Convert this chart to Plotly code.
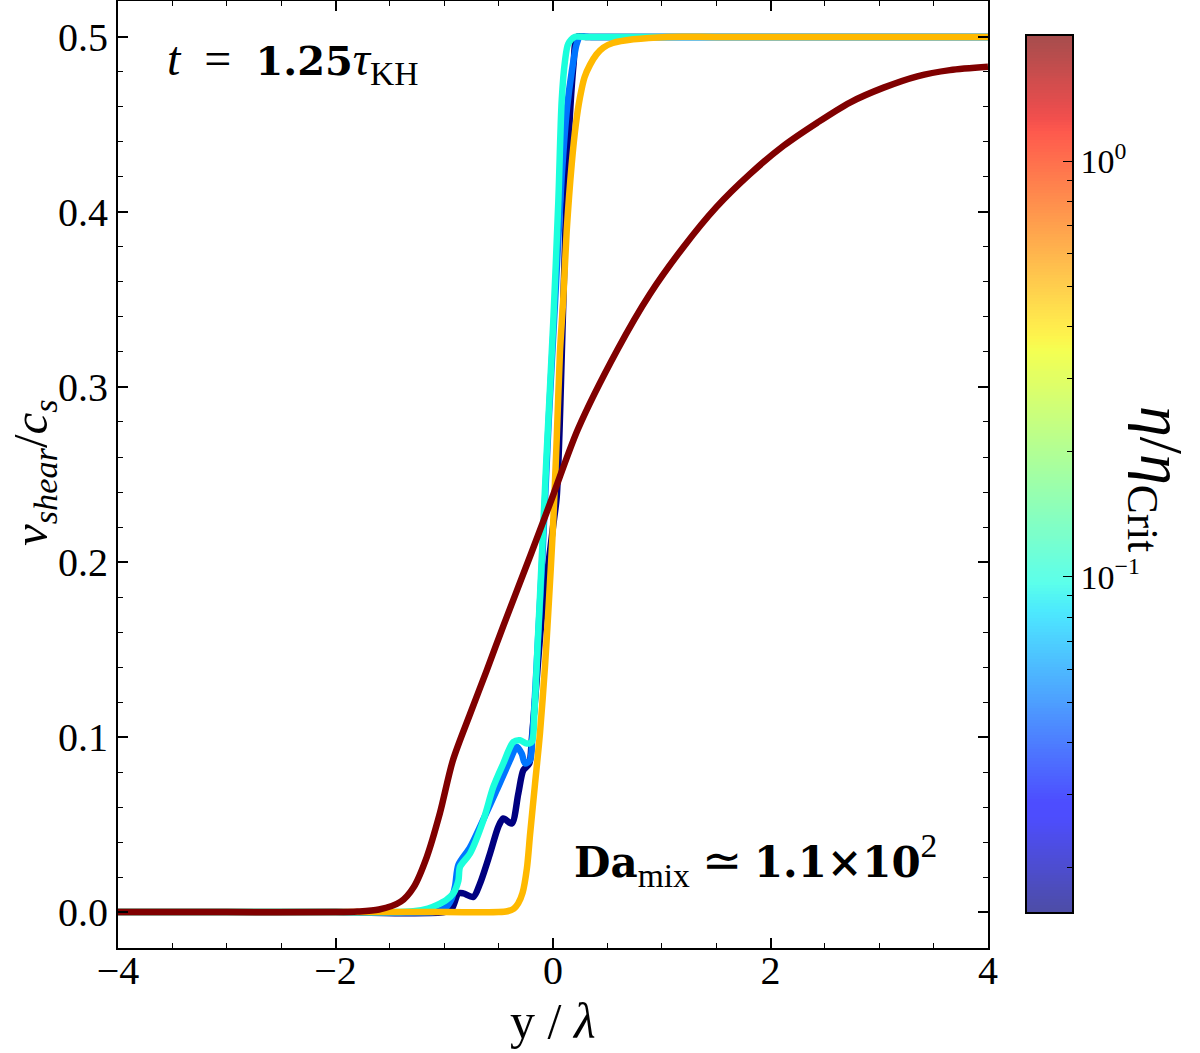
import numpy as np
import plotly.graph_objects as go

# ---------------- data ----------------
eta_values = [1/64, 0.05, 0.1, 0.5, 2.0]          # eta / eta_crit of each curve
eta_min, eta_max = 1/64, 2.0                        # colour-bar limits

x_navy = [-4, -3, -2, -1.0, -0.93, -0.87, -0.825, -0.733, -0.671, -0.579, -0.503, -0.457, -0.38, -0.319,
          -0.273, -0.218, -0.196, -0.16, -0.1, -0.04, 0.0, 0.034, 0.06, 0.074, 0.1, 0.13, 0.16, 0.19, 0.22,
          0.3, 0.6, 1.5, 2.5, 4]
y_navy = [0, 0, 0, 0, 0.002, 0.0107, 0.0107, 0.0087, 0.0164, 0.0335, 0.0487, 0.0535, 0.0506, 0.0677,
          0.081, 0.0849, 0.098, 0.125, 0.17, 0.2, 0.22, 0.237, 0.275, 0.304, 0.36, 0.42, 0.46, 0.485, 0.5,
          0.5, 0.5, 0.5, 0.5, 0.5]

x_blue = [-4, -3, -2, -1.1, -1.04, -0.98, -0.93, -0.9, -0.87, -0.763, -0.64, -0.518, -0.395, -0.334, -0.288,
          -0.257, -0.211, -0.19, -0.16, -0.135, -0.1, -0.04, 0.02, 0.08, 0.13, 0.172, 0.218, 0.248,
          0.35, 0.6, 1.5, 2.5, 4]
y_blue = [0, 0, 0, 0, 0.001, 0.003, 0.008, 0.015, 0.027, 0.037, 0.053, 0.0696, 0.0868, 0.0944, 0.0906,
          0.0849, 0.0868, 0.1, 0.13, 0.159, 0.2, 0.28, 0.35, 0.42, 0.46, 0.48, 0.496, 0.5,
          0.5, 0.5, 0.5, 0.5, 0.5]

x_cyan = [-4, -3, -2, -1.5, -1.285, -1.15, -1.07, -0.98, -0.917, -0.87, -0.855, -0.763, -0.64, -0.549, -0.457,
          -0.365, -0.303, -0.242, -0.196, -0.17, -0.14, -0.12, -0.06, 0.003, 0.049, 0.08, 0.11, 0.14, 0.2,
          0.3, 0.6, 1.5, 2.5, 4]
y_cyan = [0, 0, 0, 0, 0.0005, 0.002, 0.004, 0.007, 0.0107, 0.018, 0.0259, 0.0335, 0.0525, 0.0715, 0.0849,
          0.0972, 0.0982, 0.0963, 0.0972, 0.115, 0.155, 0.18, 0.26, 0.338, 0.406, 0.4635, 0.486, 0.496, 0.5,
          0.5, 0.5, 0.5, 0.5, 0.5]

x_orange = [-4, -3, -2, -1, -0.5, -0.42, -0.36, -0.32, -0.28, -0.24, -0.21, -0.165, -0.12, -0.074, -0.04, 0.0,
            0.034, 0.064, 0.095, 0.126, 0.172, 0.21, 0.248, 0.29, 0.34, 0.40, 0.463, 0.55, 0.738, 1.05,
            1.5, 2.5, 4]
y_orange = [0, 0, 0, 0, 0, 0.0005, 0.002, 0.005, 0.011, 0.025, 0.045, 0.0735, 0.102, 0.14, 0.175, 0.22,
            0.27, 0.32, 0.351, 0.389, 0.4273, 0.45, 0.4654, 0.477, 0.484, 0.49, 0.4939, 0.4965, 0.4986, 0.5,
            0.5, 0.5, 0.5]

x_red = [-4, -3, -2, -1.8, -1.6, -1.4, -1.28, -1.16, -1.04, -0.92, -0.76, -0.61, -0.46, -0.2, 0.0, 0.23,
         0.59, 0.89, 1.2, 1.5, 1.81, 2.12, 2.43, 2.73, 3.04, 3.35, 3.65, 4.0]
y_red = [0, 0, 0, 0.0003, 0.0015, 0.006, 0.0144, 0.0316, 0.0565, 0.0868, 0.1136, 0.138, 0.163, 0.205,
         0.238, 0.276, 0.321, 0.353, 0.380, 0.4026, 0.4216, 0.4378, 0.451, 0.4625, 0.471, 0.4775, 0.481, 0.4829]

curves_x = [x_navy, x_blue, x_cyan, x_orange, x_red]
curves_y = [y_navy, y_blue, y_cyan, y_orange, y_red]

x_ticks = [-4, -2, 0, 2, 4]
cbar_major = [0.1, 1.0]
cbar_major_text = ["10<sup>−1</sup>", "10<sup>0</sup>"]
cbar_minor = [0.02, 0.03, 0.04, 0.05, 0.06, 0.07, 0.08, 0.09, 0.2, 0.3, 0.4, 0.5, 0.6, 0.7, 0.8, 0.9, 2.0]

# ---------------- colour map (matplotlib jet) ----------------
def jet(t):
    r = np.interp(t, [0, 0.35, 0.66, 0.89, 1], [0, 0, 1, 1, 0.5])
    g = np.interp(t, [0, 0.125, 0.375, 0.64, 0.91, 1], [0, 0, 1, 1, 0, 0])
    b = np.interp(t, [0, 0.11, 0.34, 0.65, 1], [0.5, 1, 1, 0, 0])
    return r, g, b

lmin, lmax = np.log10(eta_min), np.log10(eta_max)

def line_color(eta):
    t = (np.log10(eta) - lmin) / (lmax - lmin)
    r, g, b = jet(t)
    return f"rgb({int(round(r*255))},{int(round(g*255))},{int(round(b*255))})"

alpha = 0.7
cscale = []
for t in np.linspace(0, 1, 65):
    r, g, b = jet(t)
    r, g, b = [alpha * c + (1 - alpha) for c in (r, g, b)]
    cscale.append([float(t), f"rgb({int(round(r*255))},{int(round(g*255))},{int(round(b*255))})"])

FONT = "Liberation Serif"
NB = "\u00a0"

def bold(s, size):
    return f'<span style="font-family:DejaVu Serif;font-size:{size}px;font-weight:bold">{s}</span>'

fig = go.Figure()

for xs, ys, eta in zip(curves_x, curves_y, eta_values):
    fig.add_trace(go.Scatter(x=xs, y=ys, mode="lines",
                             line=dict(color=line_color(eta), width=6.5, shape="spline", smoothing=0.8),
                             showlegend=False, hoverinfo="skip"))

# manual colour bar
yy = np.linspace(lmin, lmax, 300)
fig.add_trace(go.Heatmap(z=[[v] for v in yy], x=[0.5], y=yy, colorscale=cscale,
                         zmin=lmin, zmax=lmax, showscale=False, xaxis="x2", yaxis="y2",
                         hoverinfo="skip"))

axis_common = dict(showline=True, linewidth=2, linecolor="black", mirror="allticks",
                   ticks="inside", ticklen=10, tickwidth=1.5, tickcolor="black",
                   showgrid=False, zeroline=False, automargin=False,
                   tickfont=dict(family=FONT, size=40, color="black"))

fig.update_layout(
    width=1200, height=1053,
    margin=dict(l=0, r=0, t=0, b=0, autoexpand=False),
    paper_bgcolor="white", plot_bgcolor="white",
    xaxis=dict(domain=[118/1200, 988/1200], range=[-4, 4], tickvals=x_ticks, ticklabelstandoff=-14,
               minor=dict(dtick=0.5, tick0=0, ticks="inside", ticklen=5, tickwidth=1.2, tickcolor="black"),
               anchor="y", **axis_common),
    yaxis=dict(domain=[1 - 948/1053, 1 - 1/1053], range=[-0.0205, 0.5205], tick0=0, dtick=0.1,
               tickformat=".1f",
               minor=dict(dtick=0.02, tick0=0, ticks="inside", ticklen=5, tickwidth=1.2, tickcolor="black"),
               anchor="x", **axis_common),
    xaxis2=dict(domain=[1027/1200, 1072/1200], range=[0, 1], anchor="y2", automargin=False,
                showline=True, linewidth=1.5, linecolor="black", mirror=True,
                showticklabels=False, ticks="", showgrid=False, zeroline=False),
    yaxis2=dict(domain=[1 - 912/1053, 1 - 36/1053], range=[lmin, lmax], anchor="x2", side="right",
                automargin=False,
                showline=True, linewidth=1.5, linecolor="black", mirror=True,
                tickmode="array", tickvals=[float(np.log10(v)) for v in cbar_major],
                ticktext=cbar_major_text, ticks="inside", ticklen=9, tickwidth=1.3, tickcolor="black",
                minor=dict(tickmode="array", tickvals=[float(np.log10(v)) for v in cbar_minor],
                           ticks="inside", ticklen=5, tickwidth=1.1, tickcolor="black"),
                showgrid=False, zeroline=False,
                tickfont=dict(family=FONT, size=34, color="black")),
)

fig.add_annotation(text=f"<i>t</i>{NB}{NB}={NB}{NB}{bold('1.25', 40)}<i>τ</i><sub>KH</sub>",
                   xref="paper", yref="paper",
                   x=165/1200, y=1 - 62/1053, xanchor="left", yanchor="middle",
                   showarrow=False, font=dict(family=FONT, size=48, color="black"))
fig.add_annotation(text=f"{bold('Da', 42)}<sub>mix</sub>{NB}≃{NB}{bold('1.1×10', 42)}<sup>2</sup>",
                   xref="paper", yref="paper",
                   x=572/1200, y=1 - 860/1053, xanchor="left", yanchor="middle",
                   showarrow=False, font=dict(family=FONT, size=48, color="black"))
fig.add_annotation(text="y / <i>λ</i>", xref="paper", yref="paper",
                   x=553/1200, y=2/1053, xanchor="center", yanchor="bottom",
                   showarrow=False, font=dict(family=FONT, size=50, color="black"))
fig.add_annotation(text="<i>v</i><sub><i>shear</i></sub>/<i>c</i><sub><i>s</i></sub>", xref="paper", yref="paper",
                   x=0.5/1200, y=1 - 473/1053, xanchor="left", yanchor="middle", textangle=-90,
                   showarrow=False, font=dict(family=FONT, size=49, color="black"))
fig.add_annotation(text="<i>η</i>/<i>η</i><sub>Crit</sub>", xref="paper", yref="paper",
                   x=1158/1200, y=1 - 479/1053, xanchor="center", yanchor="middle", textangle=90,
                   showarrow=False, font=dict(family=FONT, size=62, color="black"))

fig.write_html("out.html")
